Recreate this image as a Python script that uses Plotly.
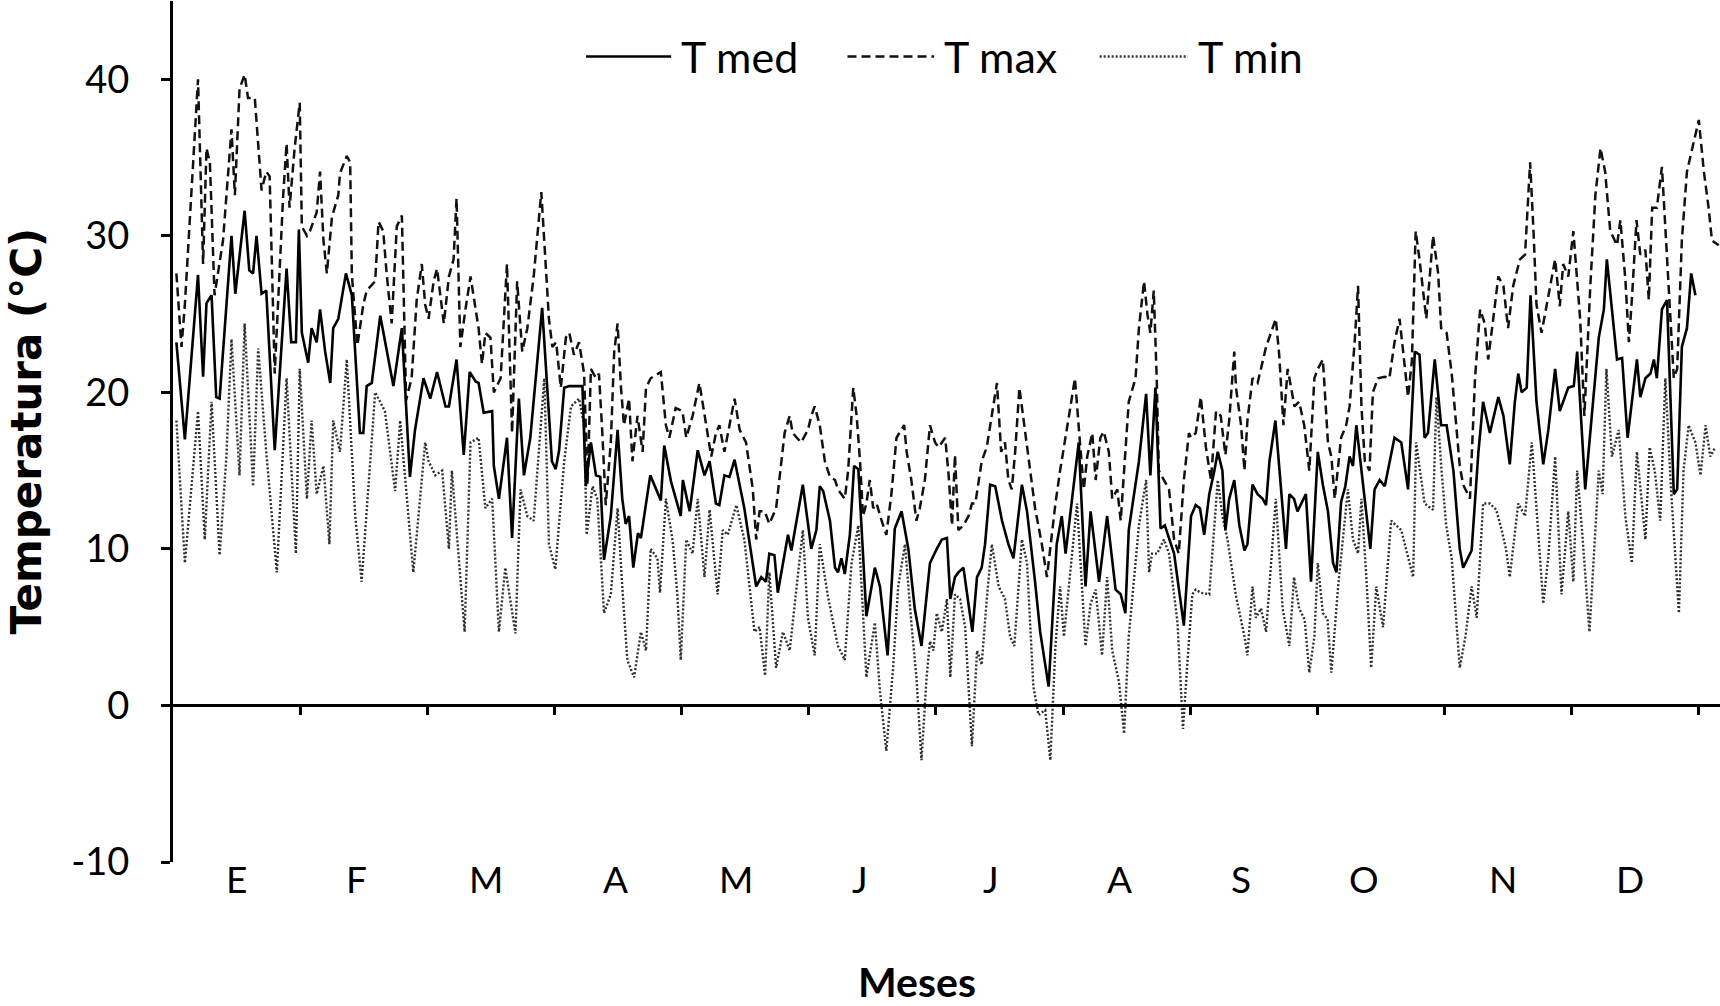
import plotly.graph_objects as go

# Daily temperatures over one year (position in days from 1 January)
dia_med = [0.8, 2.8, 5.9, 7.1, 7.9, 9.1, 10.2, 11.0, 13.8, 14.7, 16.9, 18.0, 18.9, 19.7, 20.9, 22.0, 24.0, 26.8, 27.9, 29.0, 29.7,
           30.4, 31.9, 32.7, 33.9, 34.7, 35.9, 37.1, 37.8, 39.0, 40.8, 42.2, 44.1, 44.9, 45.7, 46.9, 48.9, 50.4, 52.0, 54.0, 55.9, 57.1, 59.1,
           60.7, 62.3, 64.3, 65.1, 66.9, 68.6, 70.0, 71.4, 72.1, 73.3, 75.3, 75.7, 76.9, 78.8, 80.0, 81.6, 82.8, 84.3, 87.1, 89.4,
           90.3, 91.1, 92.3, 93.5, 94.6, 96.6, 97.4, 98.6, 99.8, 100.8, 101.7, 103.3, 104.9, 106.0, 106.8, 107.6, 108.6, 109.7, 110.4, 112.6, 115.1, 115.9, 117.5, 119.8,
           120.3, 121.9, 123.8, 125.4, 126.6, 128.1, 128.9, 130.1, 131.3, 132.5, 134.8, 137.6, 138.8, 139.9, 140.7, 141.9, 142.7, 145.1, 145.9, 148.6,
           150.6, 151.8, 152.6, 153.4, 155.0, 156.2, 156.9, 157.7, 158.5, 159.7, 160.7, 161.7, 163.6, 165.6, 166.8, 168.6, 170.3, 171.9, 173.5, 175.0, 176.6, 178.6,
           180.2, 181.4, 182.6, 183.4, 184.5, 185.3, 186.5, 188.6, 189.7, 190.8, 191.6, 192.8, 194.0, 195.6, 197.1, 198.3, 200.3, 201.5, 203.4, 204.6, 206.6, 208.5,
           209.7, 210.6, 213.7, 215.3, 216.5, 218.5, 220.4, 222.4, 223.6, 224.7, 225.5, 227.9, 229.6, 230.6, 231.8, 233.0, 234.0, 236.2, 238.5,
           240.2, 241.3, 242.3, 243.3, 244.5, 245.7, 246.5, 247.6, 248.3, 249.2, 250.4, 251.6, 252.8, 253.5, 254.7, 255.9, 257.1, 257.9, 258.7, 260.1, 262.6, 263.4, 264.5, 265.3, 267.3, 268.5,
           270.1, 271.3, 272.5, 273.7, 274.5, 275.6, 276.6, 277.6, 278.4, 279.2, 280.0, 281.5, 282.5, 283.5, 284.7, 285.9, 288.2, 289.8, 291.4, 293.0, 294.1, 295.3, 296.1, 297.7, 299.2,
           300.5, 302.1, 303.6, 304.4, 306.4, 308.0, 309.1, 310.7, 312.7, 313.9, 315.4, 316.6, 317.4, 318.2, 319.4, 320.3, 321.7, 323.3, 324.5, 326.1, 327.2, 329.2,
           330.5, 331.3, 333.2, 336.4, 337.6, 338.3, 340.7, 341.9, 343.2, 345.4, 346.2, 347.4, 348.6, 349.4, 350.1, 351.3, 352.5, 354.1, 354.9, 356.0, 357.2, 358.2, 359.2]
t_med = [23.2, 17.0, 27.5, 21.0, 25.7, 26.2, 19.7, 19.6, 30.0, 26.3, 31.6, 27.8, 27.6, 30.0, 26.3, 26.5, 16.3, 27.9, 23.2, 23.2, 30.4,
         23.8, 21.9, 24.1, 23.2, 25.3, 22.6, 20.6, 24.1, 24.7, 27.6, 26.2, 17.4, 17.4, 20.4, 20.6, 24.9, 22.6, 20.4, 24.1, 14.6, 17.6, 20.9,
         19.6, 21.3, 19.1, 19.1, 22.1, 16.0, 21.3, 20.7, 20.6, 18.7, 18.8, 15.3, 13.2, 17.1, 10.7, 19.6, 14.7, 17.1, 25.4, 15.6,
         15.1, 16.3, 20.3, 20.4, 20.4, 20.4, 14.0, 16.8, 14.7, 14.6, 9.3, 12.1, 17.6, 13.2, 11.6, 12.1, 8.8, 11.0, 10.7, 14.7, 13.1, 16.6, 14.3, 12.1,
         14.4, 12.4, 16.3, 14.7, 15.6, 12.9, 12.8, 14.7, 14.6, 15.7, 12.6, 7.6, 8.2, 7.9, 9.7, 9.6, 7.2, 10.9, 9.9, 14.1,
         10.0, 11.2, 14.0, 13.7, 11.8, 8.8, 8.5, 9.4, 8.4, 10.9, 15.3, 15.1, 5.7, 8.8, 7.6, 3.2, 11.3, 12.4, 10.0, 6.2, 3.8, 9.1,
         10.0, 10.6, 10.7, 6.8, 8.2, 8.5, 8.8, 4.7, 8.2, 8.8, 10.3, 14.1, 14.0, 11.8, 10.3, 9.4, 14.1, 12.4, 7.9, 4.7, 1.2, 10.3,
         12.1, 9.7, 16.8, 7.6, 12.4, 7.9, 12.1, 7.4, 7.1, 5.9, 11.2, 15.6, 19.9, 14.7, 20.3, 11.3, 11.5, 9.7, 5.1,
         12.1, 12.8, 12.6, 10.9, 13.5, 15.0, 16.2, 15.0, 11.2, 13.2, 14.4, 11.5, 9.9, 10.3, 14.1, 13.5, 13.2, 12.8, 15.6, 18.2, 10.0, 13.5, 13.2, 12.4, 13.5, 7.9,
         16.2, 14.1, 12.4, 9.1, 8.5, 13.0, 14.0, 15.9, 15.3, 17.9, 15.9, 12.4, 10.0, 13.8, 14.4, 14.0, 17.1, 16.8, 13.8, 22.6, 22.4, 17.1, 17.4, 22.1, 17.9,
         17.9, 15.0, 10.0, 8.8, 9.9, 16.2, 19.4, 17.4, 19.7, 18.5, 15.4, 19.4, 21.2, 20.0, 20.3, 26.2, 19.4, 15.4, 17.6, 21.5, 18.8, 20.3,
         20.4, 22.6, 13.8, 23.5, 25.3, 28.5, 22.1, 22.2, 17.1, 22.1, 19.7, 20.9, 21.2, 22.1, 20.9, 25.3, 25.9, 13.5, 13.8, 22.9, 24.1, 27.6, 26.2]

dia_max = [0.8, 2.0, 2.8, 5.9, 7.1, 7.9, 8.7, 9.1, 9.8, 11.8, 13.8, 14.6, 15.7, 16.9, 17.7, 19.3, 20.1, 20.9, 22.0, 22.8, 24.0, 26.0, 26.8, 27.5, 28.7, 29.9,
           30.4, 31.6, 32.3, 33.9, 34.7, 35.5, 36.3, 37.5, 39.0, 39.4, 41.0, 41.8, 42.2, 43.5, 44.9, 45.7, 47.7, 48.5, 49.6, 50.4, 51.6, 52.8, 54.0, 55.0, 56.3, 57.5, 58.7, 59.5,
           60.3, 61.5, 62.3, 63.9, 65.1, 66.2, 66.9, 67.8, 69.0, 70.2, 72.1, 72.9, 73.7, 74.9, 75.7, 77.3, 78.8, 80.0, 81.2, 82.4, 83.6, 85.1, 86.9, 87.9, 88.7, 89.5,
           90.4, 91.5, 92.7, 93.5, 94.6, 95.8, 97.0, 97.8, 98.6, 99.8, 100.5, 101.3, 102.1, 103.3, 104.1, 104.9, 105.7, 106.4, 107.6, 108.4, 109.6, 110.8, 111.6, 112.7, 115.1, 116.3, 117.1, 118.6, 120.2,
           121.1, 122.6, 124.2, 125.4, 127.0, 128.1, 128.9, 130.1, 131.3, 132.5, 133.7, 135.2, 136.8, 137.6, 138.4, 139.6, 140.7, 142.3, 144.3, 145.5, 146.2, 148.2, 149.8,
           150.6, 151.4, 152.6, 153.8, 155.0, 156.2, 156.9, 158.5, 159.3, 160.5, 161.3, 162.1, 162.8, 163.6, 164.4, 165.2, 166.0, 167.2, 168.3, 169.5, 170.7, 172.5, 173.1, 174.2, 175.4, 176.2, 177.4, 178.6, 179.8,
           180.6, 182.2, 183.0, 183.8, 184.5, 185.3, 186.5, 187.7, 188.5, 189.3, 190.8, 192.0, 194.4, 195.4, 196.3, 197.1, 197.9, 198.7, 199.7, 200.7, 201.9, 203.4, 205.0, 206.2, 208.2, 209.3,
           211.4, 212.8, 213.9, 214.9, 215.7, 216.9, 217.7, 218.8, 219.6, 220.8, 221.6, 222.8, 223.6, 225.5, 227.1, 227.9, 229.1, 229.9, 230.6, 231.4, 232.1, 232.6, 233.8, 235.0, 236.2, 237.3, 238.5, 239.7,
           240.2, 241.3, 242.5, 243.7, 244.9, 246.1, 247.2, 248.3, 249.2, 250.4, 250.8, 252.0, 252.8, 253.5, 254.7, 255.9, 257.9, 259.0, 260.2, 261.0, 262.0, 263.0, 263.8, 264.6, 265.7, 266.9, 268.1, 269.3,
           270.1, 271.3, 272.5, 273.3, 274.1, 275.6, 276.8, 277.6, 278.8, 279.6, 280.4, 281.2, 282.3, 283.1, 284.3, 285.9, 287.0, 288.2, 289.4, 290.2, 291.4, 292.3, 293.2, 294.1, 295.7, 297.3, 298.5, 299.2,
           300.5, 301.7, 302.5, 303.6, 304.4, 306.0, 307.2, 308.4, 309.5, 310.3, 311.5, 312.7, 313.9, 315.0, 316.2, 317.8, 319.0, 320.2, 321.0, 321.7, 322.9, 324.9, 326.1, 327.2, 328.0, 329.2,
           330.4, 332.0, 333.0, 334.4, 335.6, 336.8, 337.9, 339.1, 340.7, 341.5, 342.7, 343.5, 344.2, 345.3, 346.2, 347.4, 348.2, 349.0, 350.1, 351.3, 352.9, 354.1, 354.9, 356.0, 357.2, 358.4, 360.0, 361.2, 362.3, 363.1, 364.7]
t_max = [27.6, 22.9, 25.6, 40.0, 28.2, 35.6, 34.7, 31.8, 26.2, 29.7, 36.8, 32.6, 39.4, 40.3, 38.8, 38.8, 35.6, 32.9, 34.1, 33.8, 21.2, 32.6, 35.9, 31.8, 35.6, 38.5,
         30.6, 30.0, 30.3, 31.5, 34.1, 29.7, 27.6, 31.2, 32.6, 34.0, 35.1, 34.7, 27.5, 23.0, 25.6, 26.5, 27.1, 30.9, 30.3, 27.6, 24.4, 30.6, 31.3, 19.5, 20.9, 25.9, 28.2, 25.6,
         24.7, 27.1, 27.9, 24.4, 27.4, 28.5, 32.4, 22.9, 25.3, 27.4, 24.1, 21.8, 23.8, 23.5, 20.0, 20.9, 28.2, 17.4, 27.1, 22.6, 24.1, 27.4, 32.8, 28.5, 24.7, 22.9,
         23.2, 20.3, 23.5, 23.8, 22.4, 23.2, 21.2, 14.1, 21.5, 20.9, 21.2, 17.4, 12.8, 16.8, 22.6, 24.4, 20.3, 17.9, 19.6, 15.6, 18.5, 16.2, 20.3, 20.9, 21.3, 17.9, 17.1, 19.0, 18.8,
         17.1, 18.5, 20.6, 18.5, 15.9, 17.4, 17.9, 16.2, 17.9, 19.6, 17.6, 16.8, 13.8, 10.6, 12.4, 12.4, 11.6, 12.6, 17.4, 18.5, 17.4, 16.8, 17.6,
         18.5, 19.1, 17.9, 15.6, 14.6, 14.4, 13.8, 13.2, 15.0, 20.3, 18.5, 15.6, 12.1, 12.9, 14.4, 12.6, 12.9, 11.8, 10.9, 13.5, 17.1, 17.9, 16.2, 14.4, 11.8, 12.6, 14.4, 17.9, 16.8,
         16.5, 17.1, 14.7, 11.5, 16.0, 11.2, 11.5, 12.1, 12.9, 12.9, 15.6, 16.5, 20.6, 16.2, 16.8, 14.4, 13.8, 16.2, 20.3, 18.2, 15.6, 12.6, 10.3, 8.2, 12.9, 15.0,
         18.5, 20.9, 17.1, 13.8, 15.9, 17.4, 14.4, 17.1, 17.5, 16.2, 13.2, 13.8, 11.8, 19.4, 20.9, 24.1, 27.1, 25.0, 23.8, 26.5, 20.9, 15.0, 14.4, 13.8, 10.6, 9.7, 14.4, 17.4,
         17.1, 17.4, 19.7, 16.5, 14.4, 18.8, 18.5, 16.0, 18.2, 22.6, 20.3, 17.9, 15.0, 18.2, 20.9, 20.6, 22.9, 23.8, 24.7, 22.4, 17.9, 21.5, 20.3, 19.1, 19.4, 17.9, 15.0, 20.9,
         21.5, 22.1, 16.8, 15.9, 13.2, 17.1, 17.9, 19.1, 23.2, 26.8, 19.1, 15.6, 15.0, 20.0, 20.9, 21.0, 20.9, 23.2, 24.7, 22.6, 19.7, 22.0, 30.3, 28.5, 24.7, 30.0, 27.6, 24.1,
         23.8, 21.2, 18.5, 15.3, 14.1, 13.2, 20.9, 25.3, 24.4, 22.1, 24.7, 27.4, 26.8, 24.1, 26.8, 28.5, 28.8, 34.7, 30.3, 25.6, 23.8, 26.8, 28.5, 25.5, 28.2, 27.4,
         30.3, 24.7, 18.5, 26.8, 32.6, 35.6, 34.1, 30.3, 29.4, 31.0, 27.1, 23.2, 25.9, 31.0, 28.8, 29.1, 25.9, 31.8, 31.8, 34.4, 26.8, 20.9, 21.5, 29.7, 34.1, 35.6, 37.4, 34.1, 31.8, 29.7, 29.4]

dia_min = [0.8, 2.8, 5.9, 7.5, 9.1, 11.0, 12.6, 13.8, 15.7, 16.9, 18.9, 20.1, 22.0, 24.5, 26.8, 29.0, 29.9,
           31.6, 32.7, 33.9, 35.5, 36.9, 37.8, 39.4, 41.0, 43.0, 44.5, 47.7, 50.0, 52.4, 53.6, 56.7, 59.5,
           60.3, 61.9, 63.5, 65.1, 65.8, 68.8, 70.2, 72.1, 73.7, 75.3, 76.9, 78.4, 80.8, 82.0, 83.6, 85.1, 87.6, 88.7, 90.2,
           92.3, 93.9, 95.8, 97.0, 97.6, 99.0, 100.1, 101.7, 103.3, 104.9, 106.0, 107.2, 108.8, 110.4, 111.6, 112.7, 114.3, 114.9, 116.3, 117.9, 119.0, 119.8,
           121.1, 122.6, 123.8, 125.4, 126.6, 128.5, 129.7, 130.9, 132.9, 134.8, 137.2, 138.4, 139.7, 140.7, 142.3, 143.9, 145.5, 147.0, 148.6, 149.8,
           150.5, 151.4, 152.6, 154.5, 156.2, 156.9, 158.5, 160.1, 161.7, 163.6, 165.6, 166.8, 168.3, 169.9, 171.1, 172.7, 174.2, 175.4, 176.6, 177.8, 178.6, 179.4,
           180.2, 181.4, 182.6, 183.4, 184.5, 185.7, 186.9, 188.5, 189.7, 190.8, 192.0, 193.2, 194.8, 196.3, 197.5, 198.5, 200.3, 201.5, 203.0, 204.2, 205.8, 207.0, 208.2, 209.3,
           210.2, 211.5, 213.3, 215.3, 216.5, 217.7, 219.2, 220.4, 221.6, 223.2, 224.4, 225.5, 227.9, 229.6, 230.3, 231.0, 232.2, 233.8, 235.0, 237.0, 238.3, 239.3, 240.5,
           241.3, 242.5, 244.5, 246.5, 247.6, 248.8, 250.8, 252.8, 253.5, 254.7, 255.5, 256.7, 257.9, 259.0, 260.2, 261.8, 263.4, 264.5, 265.7, 267.0, 268.1, 269.3,
           270.1, 271.3, 272.4, 273.3, 274.9, 277.2, 278.4, 279.6, 280.4, 281.6, 282.7, 283.9, 285.5, 287.4, 289.8, 292.6, 293.3, 295.3, 297.3, 298.1, 299.3, 300.4,
           301.7, 303.6, 305.0, 306.4, 307.6, 309.1, 310.7, 312.2, 313.5, 314.5, 315.4, 317.4, 319.0, 320.6, 321.9, 323.3, 324.5, 326.1, 327.6, 329.2, 330.4,
           331.3, 332.5, 334.2, 336.4, 337.3, 338.2, 339.5, 341.1, 342.7, 344.2, 345.4, 347.4, 348.4, 349.6, 350.9, 352.1, 353.4, 355.3, 356.4, 357.6, 359.2, 360.4, 361.6, 362.7, 363.9]
t_min = [18.2, 9.1, 18.8, 10.6, 19.4, 9.6, 15.9, 23.4, 14.7, 24.4, 14.0, 22.8, 16.2, 8.5, 20.9, 9.7, 21.5,
         13.2, 18.2, 13.5, 15.3, 10.3, 18.2, 16.2, 22.1, 12.1, 7.9, 20.0, 18.8, 13.7, 18.2, 8.5, 16.8,
         15.6, 14.7, 15.0, 10.0, 15.0, 4.7, 16.8, 17.1, 12.6, 13.2, 4.7, 8.8, 4.6, 13.8, 12.1, 11.8, 20.9, 10.3, 8.7,
         15.6, 19.1, 19.6, 17.9, 10.9, 14.0, 13.2, 5.9, 7.1, 12.6, 7.6, 2.9, 1.8, 4.7, 3.5, 10.0, 9.4, 7.2, 13.2, 10.5, 7.1, 2.9,
         10.6, 9.7, 13.2, 8.2, 12.5, 7.1, 11.2, 10.9, 12.8, 10.6, 4.7, 5.0, 1.9, 8.5, 2.4, 4.7, 3.5, 7.1, 11.2, 5.6,
         4.5, 3.2, 10.3, 7.0, 4.7, 3.8, 2.9, 9.1, 11.5, 1.8, 5.3, 0.9, -2.9, 2.4, 7.6, 10.3, 5.3, 1.8, -3.5, 1.8, 4.1, 3.5,
         5.9, 4.7, 6.8, 1.8, 7.1, 6.8, 5.0, -2.6, 3.5, 2.6, 6.8, 10.3, 7.6, 6.8, 4.4, 3.8, 10.6, 9.1, 1.2, -0.6, -0.3, -3.5, 3.8, 7.6,
         4.4, 8.0, 12.9, 3.8, 6.5, 7.4, 3.2, 8.2, 3.5, 1.5, -1.8, 4.4, 11.5, 14.4, 8.5, 9.7, 9.7, 10.6, 9.7, 5.3, -1.5, 2.6, 7.1,
         7.4, 7.2, 7.1, 14.4, 12.1, 10.6, 7.0, 4.4, 3.2, 7.6, 5.6, 6.2, 4.7, 9.1, 13.2, 6.2, 3.8, 8.2, 6.2, 5.5, 2.1, 4.4,
         9.1, 5.9, 5.5, 2.1, 7.6, 13.8, 10.6, 9.7, 13.2, 8.0, 2.4, 7.6, 5.0, 11.8, 11.2, 8.2, 16.8, 12.9, 12.5, 19.7, 15.0, 11.5,
         9.4, 2.4, 4.5, 7.6, 5.6, 12.9, 12.9, 12.5, 11.2, 10.0, 8.2, 12.9, 12.1, 16.8, 11.5, 6.5, 9.5, 15.9, 7.1, 12.4, 7.9,
         15.0, 11.0, 4.7, 15.0, 13.5, 21.5, 15.9, 17.6, 12.0, 9.1, 16.2, 10.6, 16.5, 15.0, 11.8, 20.9, 14.0, 5.9, 15.0, 17.9, 16.8, 14.7, 17.9, 15.9, 16.5]

meses = ["E", "F", "M", "A", "M", "J", "J", "A", "S", "O", "N", "D"]
y_ticks = [-10, 0, 10, 20, 30, 40]

FONT = "Lato"
dias_anio = 365
marca_cada = 30  # one axis tick every 30 days

fig = go.Figure()
fig.add_trace(go.Scatter(x=dia_max, y=t_max, mode="lines", name="T max",
                         line=dict(color="#111111", width=2.5, dash="9px,5px")))
fig.add_trace(go.Scatter(x=dia_min, y=t_min, mode="lines", name="T min",
                         line=dict(color="#2e2e2e", width=2.4, dash="2px,2px")))
fig.add_trace(go.Scatter(x=dia_med, y=t_med, mode="lines", name="T med",
                         line=dict(color="#000000", width=2.6)))

y_min, y_max = -10, 45
fig.update_layout(
    width=1720, height=1006,
    margin=dict(l=173, r=0, t=1, b=144),
    paper_bgcolor="white", plot_bgcolor="white",
    showlegend=False,
    font=dict(family=FONT, color="black"),
    xaxis=dict(
        range=[0, dias_anio], anchor="free", position=(0 - y_min) / (y_max - y_min),
        showline=True, linecolor="black", linewidth=3,
        tickvals=list(range(marca_cada, dias_anio, marca_cada)),
        ticks="outside", ticklen=8, tickwidth=3, tickcolor="black",
        showticklabels=False, showgrid=False, zeroline=False,
    ),
    yaxis=dict(
        range=[y_min, y_max], tickvals=y_ticks, ticktext=[str(v) for v in y_ticks],
        showline=True, linecolor="black", linewidth=3,
        ticks="outside", ticklen=9, tickwidth=3, tickcolor="black",
        ticklabelstandoff=24,
        tickfont=dict(size=38, family=FONT), showgrid=False, zeroline=False,
    ),
)

# month letters under the plot
pos_meses = [15.0, 43.2, 73.8, 104.3, 132.8, 162.1, 192.9, 223.4, 251.9, 280.9, 313.8, 343.8]
for m, xm in zip(meses, pos_meses):
    fig.add_annotation(x=xm, xref="x", y=0, yref="paper", yanchor="middle", yshift=-16,
                       text=m, showarrow=False, font=dict(size=37, family=FONT))

# axis titles
fig.add_annotation(x=0.481, xref="paper", y=0, yref="paper", yanchor="middle", yshift=-119,
                   text="<b>Meses</b>", showarrow=False, font=dict(size=41, family=FONT))
fig.add_annotation(x=-0.095, xref="paper", y=0.5, yref="paper", xanchor="center", yanchor="middle",
                   text="<b>Temperatura (°C)</b>", textangle=-90, showarrow=False,
                   font=dict(size=42, family="DejaVu Sans"))

# legend drawn along the top
leyenda = [("T med", "solid", 2.6, "#000000", 0.267, 0.322),
           ("T max", "9px,5px", 2.5, "#111111", 0.436, 0.492),
           ("T min", "2px,2px", 2.4, "#2e2e2e", 0.599, 0.656)]
for nombre, estilo, ancho, color, x0, x1 in leyenda:
    fig.add_shape(type="line", xref="paper", yref="paper", x0=x0, x1=x1, y0=0.9355, y1=0.9355,
                  line=dict(color=color, width=ancho, dash=estilo))
    fig.add_annotation(x=x1 + 0.005, xref="paper", y=0.9355, yref="paper", xanchor="left", yanchor="middle",
                       text=nombre, showarrow=False, font=dict(size=43, family=FONT))

fig.write_html("out.html")
